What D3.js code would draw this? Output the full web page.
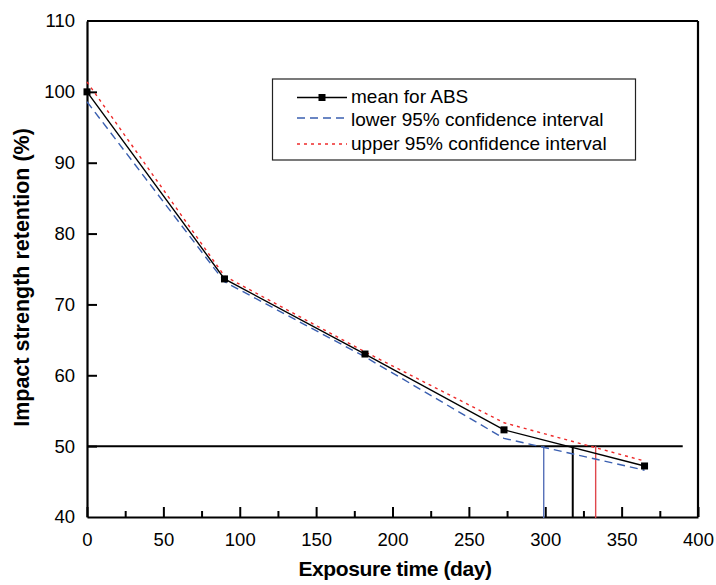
<!doctype html>
<html lang="en">
   <head>
      <meta charset="utf-8">
      <title>Impact strength retention of ABS</title>
      <script src="https://d3js.org/d3.v7.min.js"></script>
      <style>
         body { margin: 0; background: #fff; }
         svg text { font-family: "Liberation Sans", Arial, sans-serif; fill: #000; }
      </style>
   </head>
   <body>
      <svg id="chart" width="716" height="585"></svg>
      <script>
      // values
      const days = [0, 90, 182, 273, 365];
      const meanABS = [100, 73.6, 63.0, 52.3, 47.2];
      const lowerCI = [98.6, 73.2, 62.6, 51.1, 46.6];
      const upperCI = [101.4, 74.0, 63.3, 53.3, 47.9];
      const threshold = 50;
      const thresholdEnd = 390;
      // days where each curve reaches 50 %
      const crossDays = [299, 318, 333];
      const crossColors = ["#5570b8", "#000", "#e0474c"];
      const xTicks = [0, 50, 100, 150, 200, 250, 300, 350, 400];
      const xMinorTicks = [25, 75, 125, 175, 225, 275, 325, 375];
      const yTicks = [40, 50, 60, 70, 80, 90, 100, 110];
      const legendLabels = ["mean for ABS", "lower 95% confidence interval", "upper 95% confidence interval"];

      const svg = d3.select("#chart");
      const plotL = 87, plotR = 698, plotT = 21, plotB = 517;

      const x = d3.scaleLinear().domain([0, 400]).range([plotL, plotR]);
      const y = d3.scaleLinear().domain([40, 110]).range([plotB, plotT]);

      // frame (top and right just lines)
      svg.append("line").attr("x1", plotL).attr("x2", plotR).attr("y1", plotT).attr("y2", plotT)
         .attr("stroke", "#000").attr("stroke-width", 2.2);
      svg.append("line").attr("x1", plotR).attr("x2", plotR).attr("y1", plotT).attr("y2", plotB)
         .attr("stroke", "#000").attr("stroke-width", 2.2);

      // axes with inward ticks
      svg.append("g").attr("transform", `translate(0,${plotB})`)
         .call(d3.axisBottom(x).tickValues(xTicks).tickSizeInner(-10).tickSizeOuter(0).tickPadding(16));
      svg.append("g").attr("transform", `translate(0,${plotB})`)
         .call(d3.axisBottom(x).tickValues(xMinorTicks).tickSizeInner(-6).tickSizeOuter(0).tickFormat(""))
         .select(".domain").remove();
      const yAxis = svg.append("g").attr("transform", `translate(${plotL},0)`)
         .call(d3.axisLeft(y).tickValues(yTicks).tickSizeInner(-10).tickSizeOuter(0).tickPadding(12));

      svg.selectAll(".domain").attr("stroke", "#000").attr("stroke-width", 2.2);
      svg.selectAll(".tick line").attr("stroke", "#000").attr("stroke-width", 2);
      svg.selectAll(".tick text").attr("font-size", 18.5).attr("font-family", "Liberation Sans, Arial, sans-serif").attr("fill", "#000");
      yAxis.selectAll(".tick line").filter(d => d === 40 || d === 110).remove();

      // axis titles
      svg.append("text").attr("x", 395).attr("y", 576).attr("text-anchor", "middle")
         .attr("font-size", 21).attr("font-weight", "bold").attr("letter-spacing", -0.4)
         .text("Exposure time (day)");
      svg.append("text").attr("transform", "translate(28.5,277.5) rotate(-90)").attr("text-anchor", "middle")
         .attr("font-size", 21.5).attr("font-weight", "bold")
         .text("Impact strength retention (%)");

      // 50 % threshold line
      svg.append("line").attr("x1", x(0)).attr("x2", x(thresholdEnd))
         .attr("y1", y(threshold)).attr("y2", y(threshold))
         .attr("stroke", "#000").attr("stroke-width", 2);

      // drop lines at crossings
      svg.selectAll(".drop").data(crossDays).enter().append("line")
         .attr("class", "drop")
         .attr("x1", d => x(d)).attr("x2", d => x(d))
         .attr("y1", y(threshold)).attr("y2", plotB + 1)
         .attr("stroke", (d, i) => crossColors[i])
         .attr("stroke-width", (d, i) => i === 1 ? 2 : 1.4);

      const line = d3.line().x(d => x(d[0])).y(d => y(d[1]));
      const zip = vals => days.map((d, i) => [d, vals[i]]);

      svg.append("path").datum(zip(lowerCI)).attr("d", line)
         .attr("fill", "none").attr("stroke", "#3a5fb0").attr("stroke-width", 1.4)
         .attr("stroke-dasharray", "8,5");
      svg.append("path").datum(zip(upperCI)).attr("d", line)
         .attr("fill", "none").attr("stroke", "#ee2a2a").attr("stroke-width", 1.4)
         .attr("stroke-dasharray", "3,4");
      svg.append("path").datum(zip(meanABS)).attr("d", line)
         .attr("fill", "none").attr("stroke", "#000").attr("stroke-width", 1.4);
      svg.selectAll(".pt").data(zip(meanABS)).enter().append("rect")
         .attr("class", "pt")
         .attr("x", d => x(d[0]) - 3.5).attr("y", d => y(d[1]) - 3.5)
         .attr("width", 7).attr("height", 7).attr("fill", "#000");

      // legend
      const legend = svg.append("g");
      legend.append("rect").attr("x", 272.5).attr("y", 79).attr("width", 363).attr("height", 81)
         .attr("fill", "#fff").attr("stroke", "#222").attr("stroke-width", 1.2);
      const rowY = [97.5, 118, 144];
      const textY = [96, 119.5, 143];
      const styles = [
         { stroke: "#000", dash: null },
         { stroke: "#3a5fb0", dash: "8,5" },
         { stroke: "#ee2a2a", dash: "3,4" }
      ];
      legendLabels.forEach((label, i) => {
         legend.append("line").attr("x1", 297).attr("x2", 347).attr("y1", rowY[i]).attr("y2", rowY[i])
            .attr("stroke", styles[i].stroke).attr("stroke-width", 1.6)
            .attr("stroke-dasharray", styles[i].dash);
         legend.append("text").attr("x", 351).attr("y", textY[i]).attr("dy", "0.35em")
            .attr("font-size", 19).text(label);
      });
      legend.append("rect").attr("x", 318.5).attr("y", rowY[0] - 3.5).attr("width", 7).attr("height", 7).attr("fill", "#000");
      </script>
   </body>
</html>
